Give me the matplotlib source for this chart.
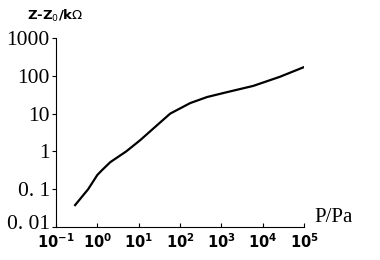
import matplotlib
matplotlib.use("Agg")
import matplotlib.pyplot as plt
import matplotlib.transforms as mtransforms

pressure = [0.29, 0.6, 1.0, 1.3, 2.06, 5.0, 11, 19, 30, 58, 177, 455, 1380, 5900, 26000, 100000]
impedance = [0.038, 0.1, 0.238, 0.32, 0.52, 1.0, 2.0, 3.4, 5.3, 10.0, 19, 27.5, 37, 54, 94, 170]
x_ticks = [0.1, 1, 10, 100, 1000, 10000, 100000]
x_tick_labels = ["$\\mathbf{10^{-1}}$", "$\\mathbf{10^{0}}$", "$\\mathbf{10^{1}}$", "$\\mathbf{10^{2}}$",
                 "$\\mathbf{10^{3}}$", "$\\mathbf{10^{4}}$", "$\\mathbf{10^{5}}$"]
y_ticks = [0.01, 0.1, 1, 10, 100, 1000]
y_tick_labels = ["0. 01", "0. 1", "1", "10", "100", "1000"]

fig = plt.figure(figsize=(3.8, 2.6), dpi=100)
ax = fig.add_axes([56/380, 33/260, 248/380, 189/260])
ax.plot(pressure, impedance, color="black", lw=1.6)
ax.set_xscale("log")
ax.set_yscale("log")
ax.set_xlim(0.1, 1e5)
ax.set_ylim(0.01, 1000)
ax.spines["top"].set_visible(False)
ax.spines["right"].set_visible(False)
ax.minorticks_off()
ax.set_xticks(x_ticks)
ax.set_xticklabels(x_tick_labels, fontsize=10.5)
ax.set_yticks(y_ticks)
ax.set_yticklabels(y_tick_labels, fontsize=15.5, family="Liberation Serif")
ax.tick_params(axis="x", direction="in", length=3, pad=4)
ax.tick_params(axis="y", direction="out", length=3, pad=1.5)
ax.tick_params(which="minor", length=0)
lab0 = ax.get_yticklabels()[0]
lab0.set_transform(lab0.get_transform() + mtransforms.ScaledTranslation(0, 5/100, fig.dpi_scale_trans))
fig.text(27/380, 1 - 16/260, "Z-Z$_0$/k$\\Omega$", fontsize=9.5, fontweight="bold", va="center", ha="left")
fig.text(314/380, 1 - 218/260, "P/Pa", fontsize=15, family="Liberation Serif", va="center", ha="left")
fig.savefig("out.png", dpi=100)
